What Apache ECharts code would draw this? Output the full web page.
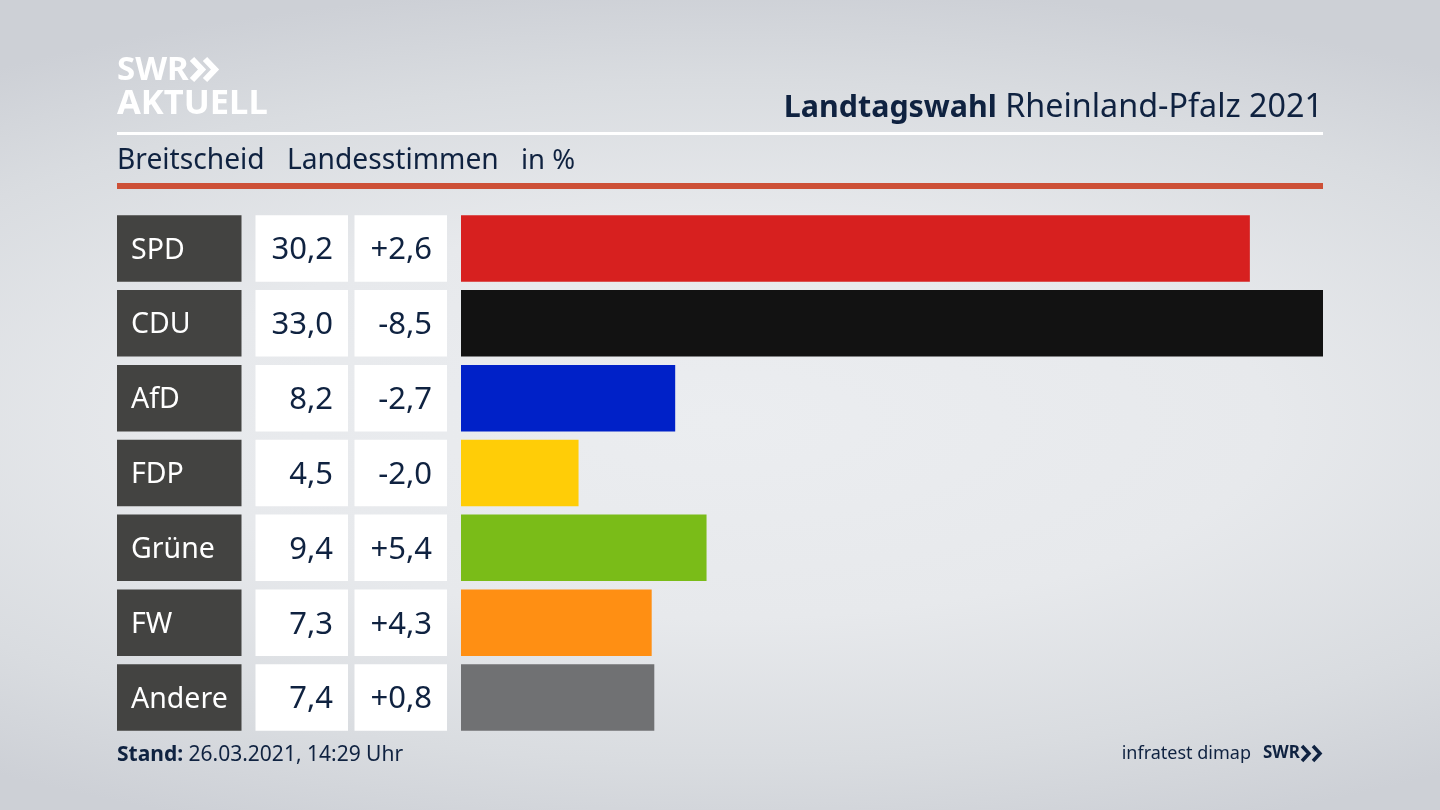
<!DOCTYPE html>
<html>
<head>
<meta charset="utf-8">
<script src="https://cdn.jsdelivr.net/npm/echarts@6/dist/echarts.min.js"></script>
<style>
html, body { margin: 0; height: 100%; background: radial-gradient(ellipse 85% 54% at 50% 52%, #ebedf0 0%, #e7e9ec 45%, #d9dce0 78%, #cdd0d6 100%), #cdd0d6; }
#chart { width: 1440px; height: 810px; }
</style>
</head>
<body>
<div id="chart"></div>
<script>
var parties = ['SPD', 'CDU', 'AfD', 'FDP', 'Grüne', 'FW', 'Andere'];
var shares = [30.2, 33.0, 8.2, 4.5, 9.4, 7.3, 7.4];
var changes = ['+2,6', '-8,5', '-2,7', '-2,0', '+5,4', '+4,3', '+0,8'];
var colors = ['#d7201f', '#121212', '#0021c8', '#ffcd07', '#7abc18', '#ff8f13', '#707173'];

var font = '"Noto Sans"';
var ink = '#0f2240';

var gridTop = 211, gridHeight = 524;
var cols = [
  { left: 117, width: 124.5 },
  { left: 255.5, width: 92.5 },
  { left: 354.5, width: 92.5 },
  { left: 461, width: 862 }
];

function fmt(v) { return v.toFixed(1).replace('.', ','); }

var chart = echarts.init(document.getElementById('chart'), null, { renderer: 'canvas' });

// one grid per table column, the last one holds the real bars
var grids = [], xAxes = [], yAxes = [];
cols.forEach(function (c, i) {
  grids.push({ left: c.left, width: c.width, top: gridTop, height: gridHeight });
  xAxes.push({ gridIndex: i, type: 'value', min: 0, max: i == 3 ? 33 : 1, show: false });
  yAxes.push({ gridIndex: i, type: 'category', data: parties, inverse: true, show: false });
});

function boxSeries(idx, color, texts, labelCfg) {
  return {
    type: 'bar', xAxisIndex: idx, yAxisIndex: idx, barWidth: 66.5, silent: true,
    data: parties.map(function () { return 1; }),
    itemStyle: { color: color },
    label: Object.assign({
      show: true, fontFamily: font, fontSize: 28.5, offset: [0, 2],
      formatter: function (p) { return texts[p.dataIndex]; }
    }, labelCfg)
  };
}

var option = {
  animation: false,
  backgroundColor: 'transparent',
  title: [
    {
      text: '{b|Landtagswahl} {r|Rheinland-Pfalz 2021}', right: 117, top: 92, padding: 0,
      textStyle: {
        fontFamily: font, fontSize: 32, fontWeight: 'normal', color: ink,
        rich: {
          b: { fontFamily: font, fontSize: 30.4, fontWeight: 'bold', color: ink },
          r: { fontFamily: font, fontSize: 32.3, fontWeight: 'normal', color: ink }
        }
      }
    },
    { text: 'Breitscheid', left: 117, top: 147, padding: 0, textStyle: { fontFamily: font, fontSize: 28.2, fontWeight: 'normal', color: ink } },
    { text: 'Landesstimmen', left: 287, top: 147, padding: 0, textStyle: { fontFamily: font, fontSize: 28.2, fontWeight: 'normal', color: ink } },
    { text: 'in %', left: 521, top: 147, padding: 0, textStyle: { fontFamily: font, fontSize: 27.5, fontWeight: 'normal', color: ink } },
    {
      text: '{b|Stand:} 26.03.2021, 14:29 Uhr', left: 117, top: 745, padding: 0,
      textStyle: {
        fontFamily: font, fontSize: 21, fontWeight: 'normal', color: ink,
        rich: { b: { fontFamily: font, fontSize: 21, fontWeight: 'bold', color: ink } }
      }
    },
    { text: 'infratest dimap', right: 189, top: 745, padding: 0, textStyle: { fontFamily: font, fontSize: 18, fontWeight: 'normal', color: ink } },
    { text: 'SWR', left: 1263, top: 745, padding: 0, textStyle: { fontFamily: font, fontSize: 17, fontWeight: 'bold', color: ink } },
    { text: 'SWR', left: 117, top: 54, padding: 0, textStyle: { fontFamily: font, fontSize: 33, fontWeight: 'bold', color: '#fff' } },
    { text: 'AKTUELL', left: 117, top: 87, padding: 0, textStyle: { fontFamily: font, fontSize: 34.5, fontWeight: 'bold', color: '#fff' } }
  ],
  graphic: [
    { type: 'rect', shape: { x: 117, y: 132, width: 1206, height: 3 }, style: { fill: '#fff' } },
    { type: 'rect', shape: { x: 117, y: 183, width: 1206, height: 6 }, style: { fill: '#cd5037' } },
    { type: 'polyline', shape: { points: [[192, 59], [202, 69.5], [192, 80]] }, style: { stroke: '#fff', lineWidth: 6, fill: null } },
    { type: 'polyline', shape: { points: [[205, 59], [215, 69.5], [205, 80]] }, style: { stroke: '#fff', lineWidth: 6, fill: null } },
    { type: 'polyline', shape: { points: [[1302, 746], [1309, 753.5], [1302, 761]] }, style: { stroke: ink, lineWidth: 3.5, fill: null } },
    { type: 'polyline', shape: { points: [[1313, 746], [1320, 753.5], [1313, 761]] }, style: { stroke: ink, lineWidth: 3.5, fill: null } }
  ],
  grid: grids,
  xAxis: xAxes,
  yAxis: yAxes,
  series: [
    boxSeries(0, '#434341', parties, { position: 'insideLeft', distance: 14, color: '#fff' }),
    boxSeries(1, '#ffffff', shares.map(fmt), { position: 'insideRight', distance: 15, color: ink, fontSize: 31 }),
    boxSeries(2, '#ffffff', changes, { position: 'insideRight', distance: 15, color: ink, fontSize: 31 }),
    {
      type: 'bar', xAxisIndex: 3, yAxisIndex: 3, barWidth: 66.5, silent: true,
      data: shares.map(function (v, i) {
        return { value: v, itemStyle: { color: colors[i] } };
      })
    }
  ]
};

chart.setOption(option);
</script>
</body>
</html>
